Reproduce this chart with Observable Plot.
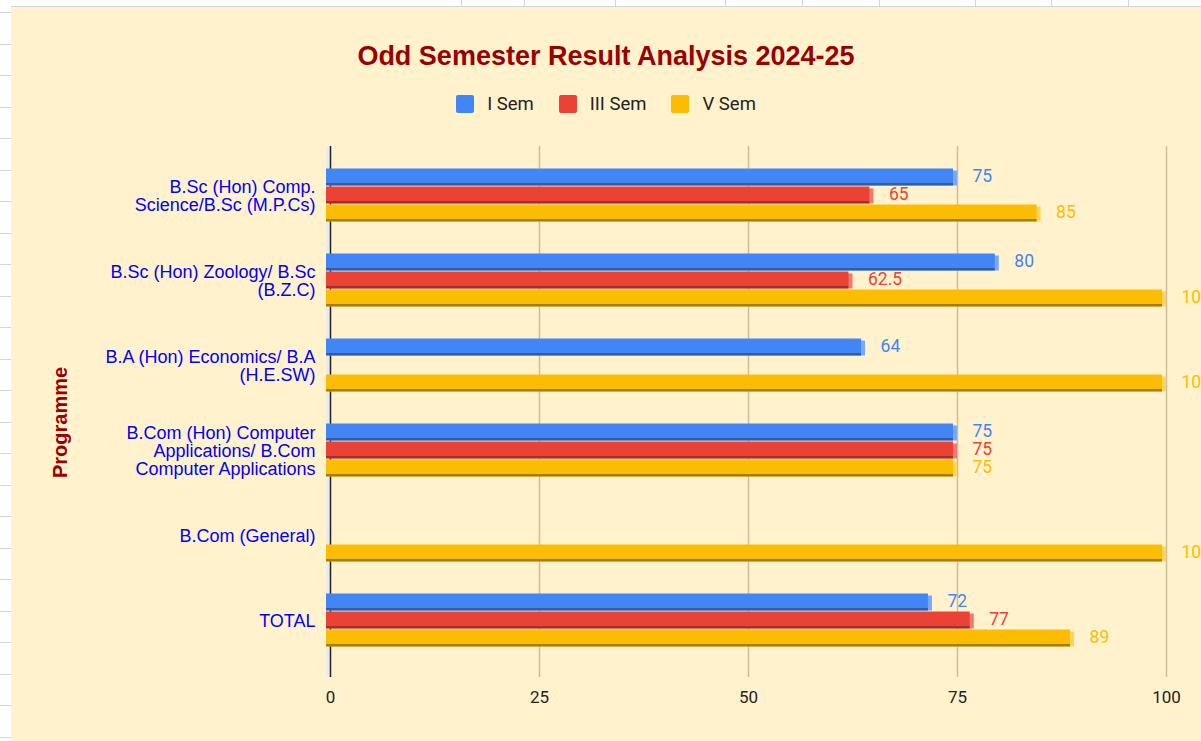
<!DOCTYPE html>
<html><head><meta charset="utf-8">
<script src="https://cdn.jsdelivr.net/npm/d3@7"></script>
<script src="https://cdn.jsdelivr.net/npm/@observablehq/plot@0.6"></script>
<style>
html,body{margin:0;padding:0;width:1201px;height:741px;overflow:hidden;background:#fff;}
.hline{position:absolute;left:0;width:11px;height:1px;background:#d6d6d6;}
.vline{position:absolute;top:0;width:1px;height:6px;background:#d6d6d6;}
#chart{position:absolute;left:11px;top:6px;width:1190px;height:735px;background:#FFF2CC;border-top:1px solid #d4d4d4;box-sizing:border-box;overflow:hidden;}
#title{position:absolute;left:0;top:36px;width:1190px;text-align:center;font:bold 27px "Liberation Sans",Arial,sans-serif;line-height:27px;color:#990000;}
#legend{position:absolute;left:0;top:88px;width:1190px;display:flex;justify-content:center;align-items:center;font:18.5px Roboto,sans-serif;line-height:18px;color:#222;}
.item{display:flex;align-items:center;margin:0 12.5px;}
.sw{width:18px;height:18px;border-radius:2px;margin-right:13px;}
#plot{position:absolute;left:0;top:118px;}
</style>
</head><body>
<div id="sheet"></div>
<div id="chart">
  <div id="title">Odd Semester Result Analysis 2024-25</div>
  <div id="legend"></div>
  <div id="plot"></div>
</div>
<script>
const categories = [
  "B.Sc (Hon) Comp. Science/B.Sc (M.P.Cs)",
  "B.Sc (Hon) Zoology/ B.Sc (B.Z.C)",
  "B.A (Hon) Economics/ B.A (H.E.SW)",
  "B.Com (Hon) Computer Applications/ B.Com Computer Applications",
  "B.Com (General)",
  "TOTAL"
];
const tickLabels = [
  "B.Sc (Hon) Comp.\nScience/B.Sc (M.P.Cs)",
  "B.Sc (Hon) Zoology/ B.Sc\n(B.Z.C)",
  "B.A (Hon) Economics/ B.A\n(H.E.SW)",
  "B.Com (Hon) Computer\nApplications/ B.Com\nComputer Applications",
  "B.Com (General)",
  "TOTAL"
];
const series = ["I Sem", "III Sem", "V Sem"];
const semI   = [75, 80, 64, 75, null, 72];
const semIII = [65, 62.5, null, 75, null, 77];
const semV   = [85, 100, 100, 75, 100, 89];
const xTicks = [0, 25, 50, 75, 100];

const colors = ["#4285F4", "#EA4335", "#FBBC04"];
const darkColors = ["#2f5da6", "#a5302a", "#a67c02"];
const lightColors = ["#79a8f7", "#f2786f", "#fdd35a"];

// spreadsheet decoration
const sheet = document.getElementById("sheet");
for (let k = 0; k < 24; k++) {
  const d = document.createElement("div"); d.className = "hline";
  d.style.top = Math.round(12.3 + 31.5 * k) + "px"; sheet.appendChild(d);
}
[461, 524, 615, 725, 802, 879, 975, 1051, 1128].forEach(x => {
  const d = document.createElement("div"); d.className = "vline";
  d.style.left = x + "px"; sheet.appendChild(d);
});

// legend
const legend = document.getElementById("legend");
series.forEach((s, i) => {
  const it = document.createElement("div"); it.className = "item";
  const sw = document.createElement("div"); sw.className = "sw"; sw.style.background = colors[i];
  const t = document.createElement("span"); t.textContent = s;
  it.appendChild(sw); it.appendChild(t); legend.appendChild(it);
});

const valuesBySeries = [semI, semIII, semV];
const BAND = 85;
const barMarks = series.flatMap((s, i) => {
  const rows = categories.map((c, j) => ({program: c, value: valuesBySeries[i][j]})).filter(d => d.value != null);
  const o = 15.5 + 18 * i;
  return [
    Plot.barX(rows, {x: "value", y: "program", fill: lightColors[i], insetTop: o + 2, insetBottom: BAND - (o + 17)}),
    Plot.barX(rows, {x: "value", y: "program", fill: darkColors[i], dx: -4, insetTop: o + 14.5, insetBottom: BAND - (o + 17)}),
    Plot.barX(rows, {x: "value", y: "program", fill: colors[i], dx: -4, insetTop: o, insetBottom: BAND - (o + 14.5)}),
    Plot.text(rows, {x: "value", y: "program", text: d => String(d.value), dx: 15, dy: o + 7.5 - BAND / 2,
      textAnchor: "start", fill: colors[i], fontSize: 17.5, fontFamily: "Roboto"})
  ];
});

const chart = Plot.plot({
  width: 1190,
  height: 616,
  marginLeft: 319,
  marginRight: 35,
  marginTop: 21,
  marginBottom: 64,
  style: {background: "transparent", overflow: "visible"},
  x: {domain: [0, 100]},
  y: {domain: categories, range: [27.5, 537.5], padding: 0},
  marks: [
    Plot.ruleX(xTicks.slice(1), {stroke: "#cbbf9b", strokeWidth: 1.5}),
    Plot.ruleX([0], {stroke: "#ebebeb", strokeWidth: 4, dx: -2.5}),
    Plot.ruleX([0], {stroke: "#222", strokeWidth: 1.5}),
    ...barMarks,
    Plot.axisX({ticks: xTicks, tickSize: 0, tickPadding: 13, fontSize: 17, fontFamily: "Roboto", fill: "#222", label: null}),
    Plot.axisY({tickSize: 0, tickPadding: 15, tickFormat: d => tickLabels[categories.indexOf(d)],
      fontSize: 18, fontFamily: "Liberation Sans, Arial, sans-serif", fill: "#0000ff", lineHeight: 1.0, label: null}),
    Plot.text(["Programme"], {text: d => d, frameAnchor: "left", textAnchor: "middle", rotate: -90, dx: -270, dy: 10.5,
      fontWeight: "bold", fontSize: 20, fill: "#990000", fontFamily: "Liberation Sans, Arial, sans-serif"})
  ]
});
document.getElementById("plot").appendChild(chart);
</script>
</body></html>
